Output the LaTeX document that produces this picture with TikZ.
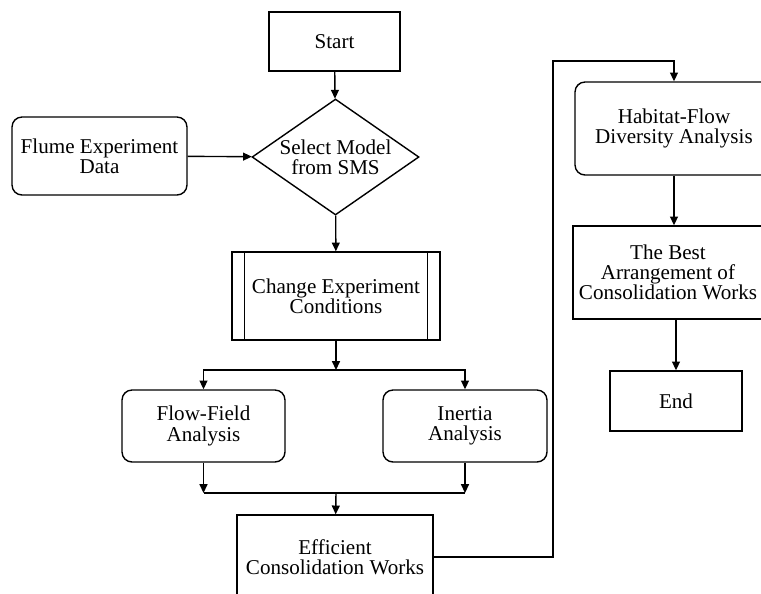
\documentclass[tikz,border=0pt]{standalone}
\usepackage{fontspec}
\setmainfont{Liberation Serif}
\usetikzlibrary{shapes.geometric,arrows.meta}

\begin{document}
\begin{tikzpicture}[
  x = 0.02cm, y = -0.02cm,
  every node/.style = {draw, line width = 0.8pt, align = center, inner sep = 0pt,
                       font = \fontsize{12pt}{11.5pt}\selectfont},
  box/.style = {rectangle, minimum width = #1},
  rbox/.style = {rectangle, rounded corners = 0.2cm, minimum width = #1},
  decide/.style = {diamond, shape aspect = 1.44, minimum width = 3.34cm, minimum height = 2.32cm},
  arr/.style = {line width = 0.8pt, -{Triangle[length = 5pt, width = 4.5pt]}},
  line/.style = {line width = 0.8pt}
  ]
  \useasboundingbox[fill = white] (0,0) rectangle (761,593);
  \clip (0,0) rectangle (761,593);

  %left column
  \node[box = 2.62cm, minimum height = 1.18cm] (start) at (334.5,41.5) {Start};
  \node[decide] (sel) at (335.5,157) {Select Model\\from SMS};
  \node[rbox = 3.5cm, minimum height = 1.56cm] (flume) at (99.5,156) {Flume Experiment\\Data};
  \node[box = 4.16cm, minimum height = 1.76cm] (chg) at (336,296) {Change Experiment\\Conditions};
  \draw[line] ([xshift = 0.26cm]chg.north west) -- ([xshift = 0.26cm]chg.south west);
  \draw[line] ([xshift = -0.26cm]chg.north east) -- ([xshift = -0.26cm]chg.south east);
  \node[rbox = 3.26cm, minimum height = 1.44cm] (flow) at (203.5,426) {Flow-Field\\Analysis};
  \node[rbox = 3.28cm, minimum height = 1.44cm] (iner) at (465,426) {Inertia\\Analysis};
  \node[box = 3.92cm, minimum height = 1.68cm] (eff) at (335,557) {Efficient\\Consolidation Works};

  %right column
  \node[rbox = 3.96cm, minimum height = 1.86cm] (hab) at (674,128.5) {Habitat-Flow\\Diversity Analysis};
  \node[box = 3.8cm, minimum height = 1.86cm] (best) at (668,272.5) {The Best\\Arrangement of\\Consolidation Works};
  \node[box = 2.64cm, minimum height = 1.2cm] (end) at (676,401) {End};

  \coordinate (split) at (336,370);
  \coordinate (merge) at (336,493);
  \coordinate (loop) at (553,61);

  \draw[arr] (start) -- (sel);
  \draw[arr] (flume) -- (sel);
  \draw[arr] (sel) -- (chg);
  \draw[arr] (chg) -- (split);
  \draw[arr] (split) -| (flow);
  \draw[arr] (split) -| (iner);
  \draw[arr] (flow) -- (flow |- merge);
  \draw[arr] (iner) -- (iner |- merge);
  \draw[line] (flow |- merge) -- (iner |- merge);
  \draw[arr] (merge) -- (eff);
  \draw[arr] (eff.east) -| (loop) -| (hab.north);
  \draw[arr] (hab) -- (hab |- best.north);
  \draw[arr] (end |- best.south) -- (end);
\end{tikzpicture}
\end{document}
